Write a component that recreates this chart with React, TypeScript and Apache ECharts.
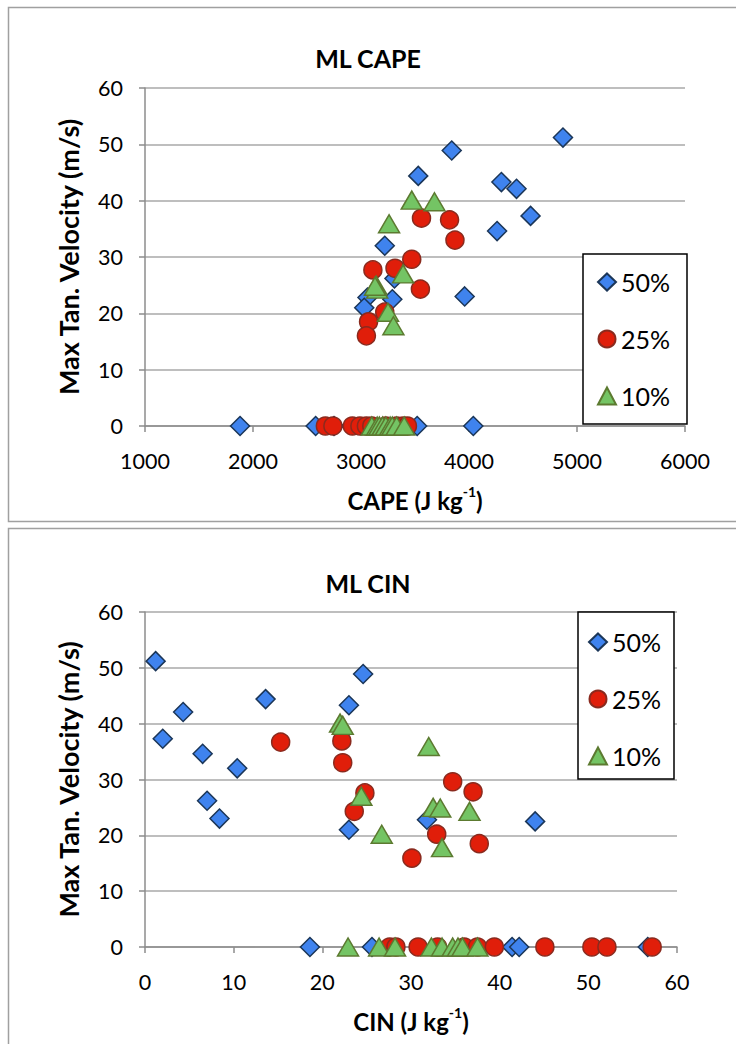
import React, { useEffect, useRef } from "react";
import * as echarts from "echarts";

// ---- Data: ML CAPE panel ----
const cape50 = [4870, 3840, 3530, 4300, 4440, 4570, 4260, 3220, 3310, 3960, 3060, 3290, 3030, 1880, 2580, 2750, 3520, 4040];
const vel50a = [51.2, 48.9, 44.4, 43.3, 42.1, 37.3, 34.6, 32.0, 26.2, 23.0, 22.8, 22.5, 21.0, 0, 0, 0, 0, 0];
const cape25 = [3560, 3820, 3870, 3470, 3550, 3110, 3315, 3220, 3070, 3050, 2670, 2740, 2920, 2990, 3050, 3100, 3230, 3330, 3390, 3430];
const vel25a = [36.9, 36.6, 33.0, 29.6, 24.3, 27.7, 28.0, 20.2, 18.5, 16.0, 0, 0, 0, 0, 0, 0, 0, 0, 0, 0];
const cape10 = [3470, 3680, 3260, 3390, 3140, 3150, 3130, 3250, 3300, 3100, 3150, 3170, 3200, 3230, 3270, 3290, 3330, 3400];
const vel10a = [40.1, 39.8, 35.9, 27.0, 25.0, 24.3, 24.8, 20.2, 17.8, 0, 0, 0, 0, 0, 0, 0, 0, 0];

// ---- Data: ML CIN panel ----
const cin50 = [1.2, 2.0, 4.3, 6.5, 7.0, 8.4, 10.4, 13.6, 23.0, 24.6, 23.0, 31.8, 44.0, 18.6, 25.6, 41.4, 42.2, 56.7];
const vel50b = [51.2, 37.3, 42.1, 34.6, 26.2, 23.0, 32.0, 44.4, 43.3, 48.9, 21.0, 22.8, 22.5, 0, 0, 0, 0, 0];
const cin25 = [15.3, 22.2, 22.3, 24.8, 23.6, 30.1, 34.7, 37.0, 32.9, 37.7, 27.6, 28.3, 30.8, 33.0, 36.0, 37.5, 39.4, 45.1, 50.4, 52.1, 57.2];
const vel25b = [36.7, 36.9, 33.0, 27.6, 24.3, 15.9, 29.6, 27.8, 20.2, 18.5, 0, 0, 0, 0, 0, 0, 0, 0, 0, 0, 0];
const cin10 = [22.0, 22.3, 32.0, 24.4, 32.5, 33.3, 36.6, 26.7, 33.5, 22.9, 26.4, 28.2, 32.3, 33.5, 34.7, 35.3, 35.8, 37.5];
const vel10b = [40.1, 39.7, 35.9, 27.0, 25.0, 24.9, 24.3, 20.2, 17.8, 0, 0, 0, 0, 0, 0, 0, 0, 0];

const seriesNames = ["50%", "25%", "10%"];
const capeTicks = { min: 1000, max: 6000, interval: 1000 };
const cinTicks = { min: 0, max: 60, interval: 10 };
const velTicks = { min: 0, max: 60, interval: 10 };

const FONT = "Lato";
const pair = (xs: number[], ys: number[]) => xs.map((x, i) => [x, ys[i]]);

const styles = [
  { symbol: "diamond", symbolSize: 19, color: "#3F83EE", border: "#1B3658" },
  { symbol: "circle", symbolSize: 18, color: "#E01E0A", border: "#8A2A1E" },
  { symbol: "triangle", symbolSize: [21, 18], color: "#74C464", border: "#5C7A30" },
];

export default function App() {
  const ref = useRef<HTMLDivElement>(null);
  useEffect(() => {
    if (!ref.current) return;
    const chart = echarts.init(ref.current, null, { renderer: "svg" });
    const axisGray = "#8C8C8C";
    const gridGray = "#A8A8A8";
    const mkX = (gi: number, t: any, label: string) => ({
      type: "value",
      gridIndex: gi,
      ...t,
      name: `{m|${label} (J kg}{s|-1}{m|)}`,
      nameLocation: "middle",
      nameGap: 58,
      nameTextStyle: {
        rich: {
          m: { fontFamily: FONT, fontSize: 24, fontWeight: "bold", color: "#000", verticalAlign: "bottom", lineHeight: 28 },
          s: { fontFamily: FONT, fontSize: 14, fontWeight: "bold", color: "#000", verticalAlign: "top", lineHeight: 28, padding: [0, 0, 12, 0] },
        },
      },
      axisLine: { show: true, onZero: false, lineStyle: { color: axisGray, width: 1.5 } },
      axisTick: { show: true, length: 6, lineStyle: { color: axisGray, width: 1.5 } },
      axisLabel: { fontFamily: FONT, fontSize: 21.5, color: "#000", margin: 24, formatter: (v: number) => String(v) },
      splitLine: { show: false },
    });
    const mkY = (gi: number) => ({
      type: "value",
      gridIndex: gi,
      ...velTicks,
      name: "Max Tan. Velocity (m/s)",
      nameLocation: "middle",
      nameGap: 63,
      nameTextStyle: { fontFamily: FONT, fontSize: 27, fontWeight: "bold", color: "#000" },
      axisLine: { show: true, lineStyle: { color: axisGray, width: 1.5 } },
      axisTick: { show: true, length: 6, lineStyle: { color: axisGray, width: 1.5 } },
      axisLabel: { fontFamily: FONT, fontSize: 21.5, color: "#000", margin: 22 },
      splitLine: { show: true, lineStyle: { color: gridGray, width: 1.5 } },
    });
    const mkSeries = (gi: number, data: number[][], k: number) => ({
      type: "scatter",
      name: seriesNames[k],
      xAxisIndex: gi,
      yAxisIndex: gi,
      data,
      symbol: styles[k].symbol,
      symbolSize: styles[k].symbolSize,
      itemStyle: { color: styles[k].color, borderColor: styles[k].border, borderWidth: 1.5, opacity: 1 },
      z: 2 + k,
    });
    const legendBase = {
      orient: "vertical",
      data: seriesNames,
      itemWidth: 18,
      itemHeight: 17,
      itemGap: 31,
      textStyle: { fontFamily: FONT, fontSize: 25, color: "#000", lineHeight: 26 },
      selectedMode: false,
      z: 20,
    };
    chart.setOption({
      animation: false,
      backgroundColor: "#fff",
      title: [
        { text: "ML CAPE", left: "center", top: 40, textStyle: { fontFamily: FONT, fontSize: 25, fontWeight: "bold", color: "#000" } },
        { text: "ML CIN", top: 565, left: "center", textStyle: { fontFamily: FONT, fontSize: 25, fontWeight: "bold", color: "#000" } },
      ],
      grid: [
        { left: 145, top: 88, width: 540, height: 338 },
        { left: 145, top: 612, width: 532, height: 335 },
      ],
      xAxis: [mkX(0, capeTicks, "CAPE"), mkX(1, cinTicks, "CIN")],
      yAxis: [mkY(0), mkY(1)],
      legend: [
        { ...legendBase, left: 592, top: 264 },
        { ...legendBase, left: 583, top: 624 },
      ],
      graphic: [
        { type: "rect", shape: { x: 8.5, y: 7.5, width: 760, height: 514 }, style: { fill: "none", stroke: "#A0A0A0", lineWidth: 1.5 }, z: 0 },
        { type: "rect", shape: { x: 8.5, y: 528.5, width: 760, height: 540 }, style: { fill: "none", stroke: "#A0A0A0", lineWidth: 1.5 }, z: 0 },
        { type: "rect", shape: { x: 583, y: 254, width: 104, height: 170 }, style: { fill: "#fff", stroke: "#000", lineWidth: 1.5 }, z: 10 },
        { type: "rect", shape: { x: 578, y: 612, width: 96, height: 167 }, style: { fill: "#fff", stroke: "#000", lineWidth: 1.5 }, z: 10 },
      ],
      series: [
        mkSeries(0, pair(cape50, vel50a), 0),
        mkSeries(0, pair(cape25, vel25a), 1),
        mkSeries(0, pair(cape10, vel10a), 2),
        mkSeries(1, pair(cin50, vel50b), 0),
        mkSeries(1, pair(cin25, vel25b), 1),
        mkSeries(1, pair(cin10, vel10b), 2),
      ],
    });
    return () => chart.dispose();
  }, []);
  return <div ref={ref} style={{ position: "absolute", left: 0, top: 0, width: 736, height: 1044 }} />;
}
